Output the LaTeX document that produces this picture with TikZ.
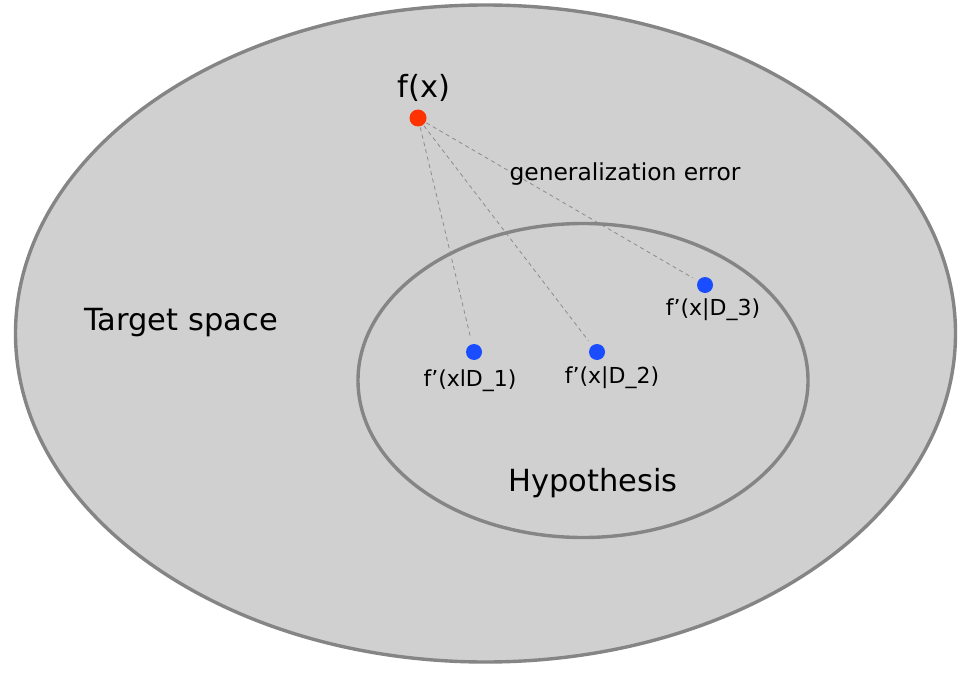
\documentclass[tikz,border=0pt]{standalone}
\usepackage{fontspec}
\setmainfont{DejaVu Sans}
\definecolor{areafill}{HTML}{D0D0D0}
\definecolor{rimgray}{HTML}{858585}
\definecolor{dashgray}{HTML}{8C8C8C}
\definecolor{reddot}{HTML}{FF3300}
\definecolor{bluedot}{HTML}{1A4DFF}
\tikzset{
  region/.style={draw=rimgray, line width=3.4pt, fill=areafill},
  truedot/.style={circle, fill=reddot, inner sep=0pt, minimum size=17pt},
  hypdot/.style={circle, fill=bluedot, inner sep=0pt, minimum size=16pt},
  errline/.style={draw=dashgray, line width=0.8pt, dash pattern=on 4pt off 3.5pt, shorten >=6pt, shorten <=1pt},
  biglabel/.style={font=\fontsize{30.5}{34}\selectfont, text=black, inner sep=0pt},
  midlabel/.style={font=\fontsize{23.4}{27}\selectfont, text=black, inner sep=0pt},
  smalllabel/.style={font=\fontsize{22}{25}\selectfont, text=black, inner sep=0pt}
}
\begin{document}
\begin{tikzpicture}[x=1pt, y=-1pt]
\useasboundingbox (0,0) rectangle (972,674);
\fill[white] (0,0) rectangle (972,674);
\draw[region] (485.5,333.5) ellipse [x radius=470pt, y radius=328.5pt];
\draw[region] (583,380.5) ellipse [x radius=225pt, y radius=157pt];

\node[truedot] (fx) at (418,118) {};
\node[hypdot] (d1) at (474,352) {};
\node[hypdot] (d2) at (597,352) {};
\node[hypdot] (d3) at (705,285) {};

\draw[errline] (fx) -- (d1);
\draw[errline] (fx) -- (d2);
\draw[errline] (fx) -- (d3);

\node[biglabel] (lfx) at (424,88) {f(x)};
\node[midlabel] (lerr) at (625,174) {generalization error};
\node[biglabel] (ltarget) at (181,323) {Target space};
\node[biglabel] (lhyp) at (593,483) {Hypothesis};
\node[smalllabel] (l1) at (470,381) {f’(xlD\_1)};
\node[smalllabel] (l2) at (612,378) {f’(x|D\_2)};
\node[smalllabel] (l3) at (713,310) {f’(x|D\_3)};
\end{tikzpicture}
\end{document}
